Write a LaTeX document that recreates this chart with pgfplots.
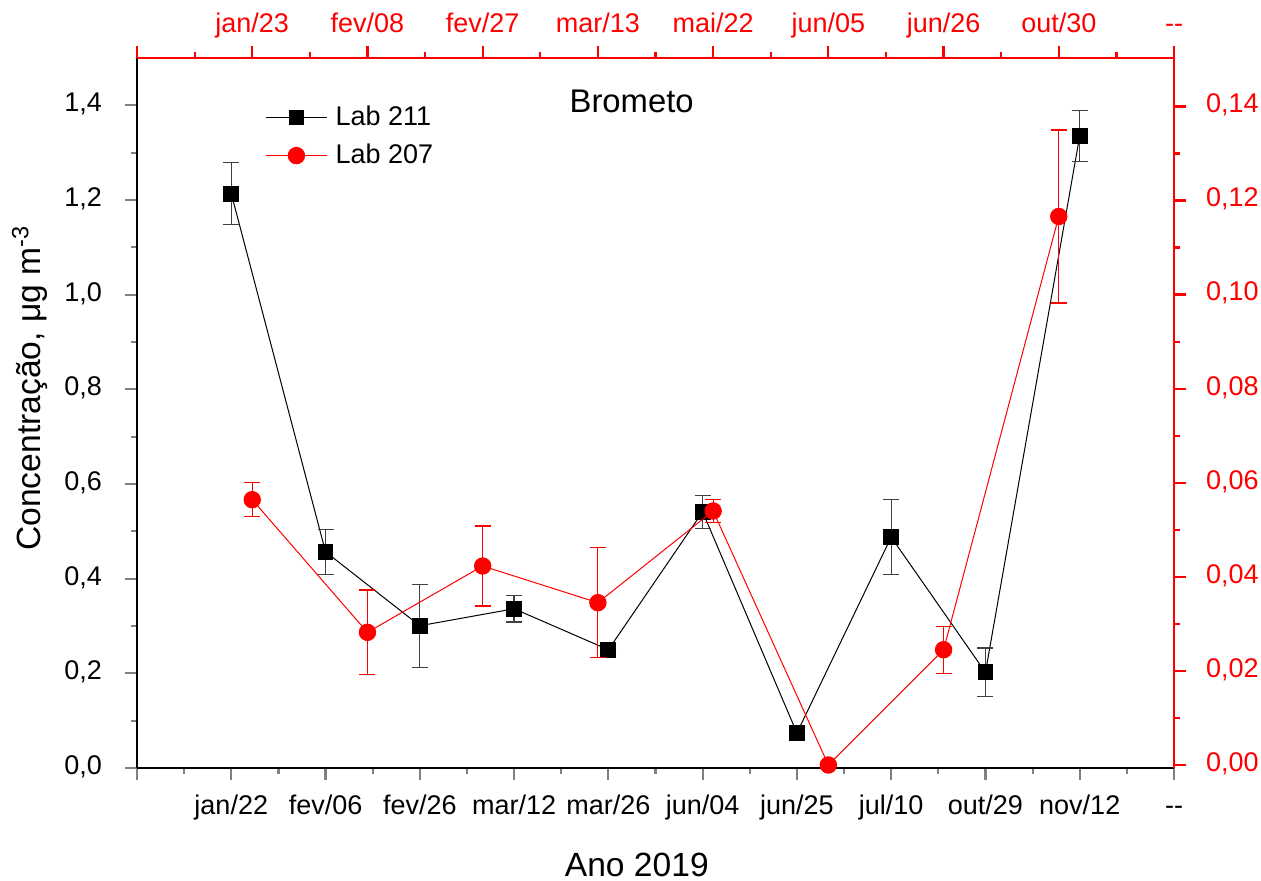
\documentclass[border=0pt]{standalone}
\usepackage{fontspec}
\setmainfont{Liberation Sans}
\usepackage{pgfplots}
\usepackage{pgfplotstable}
\pgfplotsset{compat=1.18}

\pgfplotstableread{
x y e
1 1.2135 0.065
2 0.4567 0.048
3 0.3005 0.0876
4 0.3364 0.0279
5 0.2498 0.006
6 0.5412 0.0352
7 0.0739 0.005
8 0.4878 0.0792
9 0.2020 0.0514
10 1.3357 0.054
}\labA

\pgfplotstableread{
x y e
1 0.0564 0.0036
2 0.0282 0.0090
3 0.0423 0.0085
4 0.0345 0.0117
5 0.0540 0.0025
6 0.0000 0.0000
7 0.0245 0.0050
8 0.1166 0.0184
}\labB

\pgfplotsset{
  common/.style={
    width=518.5pt, height=355pt, scale only axis,
    axis line style={line width=1.1pt,-},
    tick style={line width=1.1pt},
    tick align=outside,
    major tick length=6pt, minor tick length=3pt,
    minor x tick num=1, minor y tick num=1,
    tick label style={font=\fontsize{13.5}{16}\selectfont},
    typeset ticklabels with strut,
    label style={font=\fontsize{16.8}{19}\selectfont},
    /pgf/number format/assume math mode=true,
    scaled y ticks=false,
  }
}

\begin{document}
\begin{tikzpicture}
\begin{axis}[common, name=ax,
  xmin=0, xmax=11, ymin=0, ymax=1.5,
  axis x line*=bottom, axis y line*=left,
  xtick={0,1,2,3,4,5,6,7,8,9,10,11},
  xticklabels={,jan/22,fev/06,fev/26,mar/12,mar/26,jun/04,jun/25,jul/10,out/29,nov/12,-{}-},
  ytick={0,0.2,0.4,0.6,0.8,1.0,1.2,1.4},
  yticklabel style={/pgf/number format/fixed,/pgf/number format/fixed zerofill,/pgf/number format/precision=1,/pgf/number format/use comma, xshift=-8pt},
  xticklabel style={yshift=-2.5pt},
  xlabel={Ano 2019},
  ylabel={Concentração, μg m\textsuperscript{-3}},
  xlabel style={at={(axis description cs:0.482,-0.1366)}, anchor=center},
  ylabel style={at={(axis description cs:-0.1032,0.535)}, anchor=center},
]
\addplot[black, line width=0.5pt, mark=square*, mark size=3.7pt,
  mark options={solid, fill=black},
  error bars/.cd, y dir=both, y explicit,
  error bar style={black!75, line width=0.6pt},
  error mark options={rotate=90, mark size=4pt, black!75, line width=0.6pt}]
  table[x=x, y=y, y error=e] {\labA};
\node[font=\fontsize{16.4}{19}\selectfont] at (rel axis cs:0.477,0.939) {Brometo};
\end{axis}

\begin{axis}[common,
  xmin=0, xmax=9, ymin=-0.00064, ymax=0.1503,
  axis x line*=top, axis y line*=right,
  axis line style={red},
  tick style={red},
  tick label style={red},
  xtick={0,1,2,3,4,5,6,7,8,9},
  xticklabels={,jan/23,fev/08,fev/27,mar/13,mai/22,jun/05,jun/26,out/30,-{}-},
  ytick={0,0.02,0.04,0.06,0.08,0.10,0.12,0.14},
  yticklabel style={/pgf/number format/fixed,/pgf/number format/fixed zerofill,/pgf/number format/precision=2,/pgf/number format/use comma, xshift=6.5pt},
  xticklabel style={yshift=-1.5pt},
  legend style={at={(rel axis cs:0.118,0.944)}, anchor=north west, draw=none, fill=none,
    font=\fontsize{13.5}{16}\selectfont, text=black, row sep=3.8pt},
  legend cell align=left,
  legend image code/.code={\draw[mark repeat=2,mark phase=2] plot coordinates {(0cm,0cm)(0.53cm,0cm)(1.06cm,0cm)}; \path (1.14cm,0cm);},
]
\addlegendimage{black, line width=0.5pt, mark=square*, mark size=3.7pt, mark options={solid, fill=black}}
\addlegendentry{Lab 211}
\addplot[red, line width=0.5pt, mark=*, mark size=4.1pt,
  mark options={solid, fill=red},
  error bars/.cd, y dir=both, y explicit,
  error bar style={red, line width=0.6pt},
  error mark options={rotate=90, mark size=4pt, red, line width=0.6pt}]
  table[x=x, y=y, y error=e] {\labB};
\addlegendentry{Lab 207}
\end{axis}
\pgfresetboundingbox
\path ([shift={(-68.5pt,-56.5pt)}]ax.south west) rectangle ([shift={(43.5pt,29pt)}]ax.north east);
\end{tikzpicture}
\end{document}
